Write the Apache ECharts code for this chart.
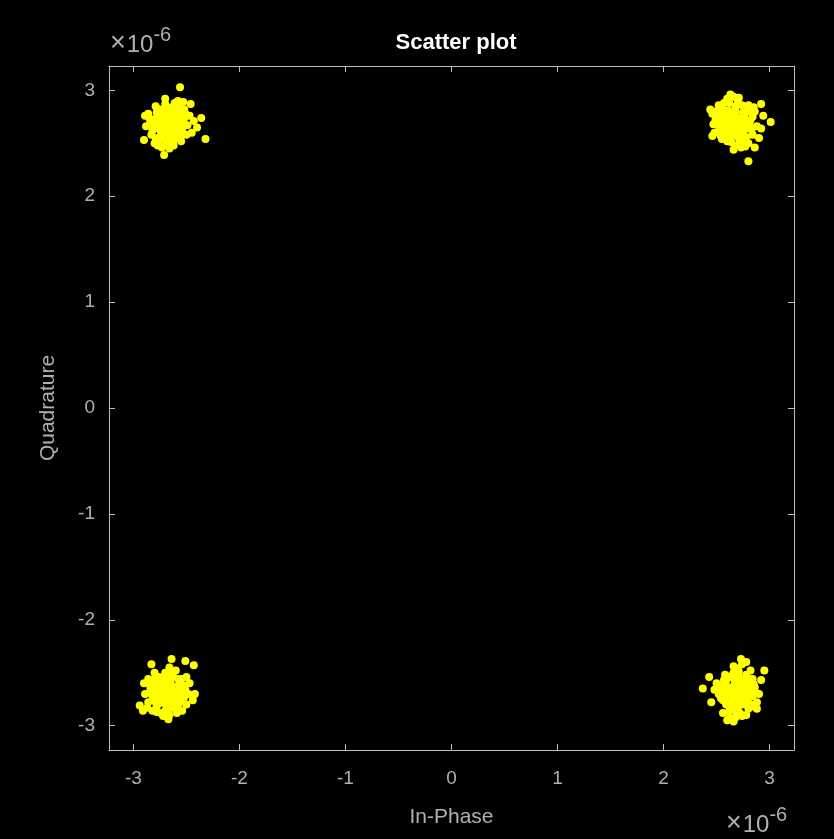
<!DOCTYPE html>
<html>
<head>
<meta charset="utf-8">
<script src="https://cdn.jsdelivr.net/npm/echarts@6/dist/echarts.min.js"></script>
<style>
html,body{margin:0;padding:0;background:#000;}
#c{width:834px;height:839px;}
</style>
</head>
<body>
<div id="c"></div>
<script>
// Values in units of 1e-6
const tickValues = [-3, -2, -1, 0, 1, 2, 3];
const clusterTopLeft = [
[-2.67,2.69],[-2.60,2.72],[-2.74,2.66],[-2.70,2.78],[-2.62,2.62],[-2.78,2.74],[-2.56,2.68],[-2.66,2.55],[-2.72,2.58],[-2.80,2.64],
[-2.58,2.80],[-2.64,2.84],[-2.75,2.82],[-2.84,2.70],[-2.52,2.74],[-2.54,2.62],[-2.60,2.55],[-2.69,2.50],[-2.76,2.52],[-2.83,2.58],
[-2.86,2.78],[-2.70,2.87],[-2.61,2.88],[-2.52,2.82],[-2.49,2.67],[-2.65,2.76],[-2.71,2.62],[-2.63,2.65],[-2.77,2.70],[-2.57,2.58],
[-2.66,2.45],[-2.62,2.48],[-2.73,2.46],[-2.80,2.50],[-2.88,2.66],[-2.55,2.52],[-2.50,2.58],[-2.47,2.76],[-2.79,2.85],[-2.58,2.90],
[-2.67,2.62],[-2.67,2.76],[-2.60,2.65],[-2.60,2.80],[-2.74,2.74],[-2.74,2.60],[-2.81,2.68],[-2.53,2.69],[-2.63,2.71],[-2.70,2.66],
[-2.64,2.58],[-2.70,2.72],[-2.57,2.75],[-2.78,2.79],[-2.56,2.63],[-2.69,2.83],[-2.62,2.53],[-2.73,2.55],[-2.82,2.62],[-2.58,2.85],
[-2.66,2.80],[-2.76,2.64],[-2.85,2.74],[-2.51,2.78],[-2.65,2.51],[-2.70,2.92],[-2.79,2.55],[-2.55,2.57],[-2.61,2.77],[-2.68,2.59],
[-2.75,2.76],[-2.64,2.68],[-2.58,2.69],[-2.72,2.70],[-2.77,2.48],
[-2.56,3.03],[-2.90,2.53],[-2.71,2.39],[-2.32,2.54],[-2.36,2.74],[-2.40,2.65],[-2.46,2.87],[-2.89,2.76],[-2.43,2.71],[-2.53,2.89],[-2.45,2.60]
];
const clusterTopRight = [
[2.66,2.70],[2.60,2.74],[2.72,2.66],[2.68,2.80],[2.58,2.62],[2.76,2.76],[2.54,2.70],[2.64,2.58],[2.70,2.56],[2.80,2.64],
[2.56,2.82],[2.62,2.88],[2.74,2.86],[2.82,2.72],[2.50,2.76],[2.52,2.62],[2.60,2.52],[2.68,2.48],[2.76,2.52],[2.84,2.58],
[2.86,2.80],[2.70,2.90],[2.60,2.92],[2.52,2.86],[2.47,2.68],[2.65,2.77],[2.71,2.62],[2.63,2.65],[2.78,2.70],[2.57,2.58],
[2.66,2.44],[2.73,2.46],[2.80,2.50],[2.88,2.66],[2.55,2.54],[2.48,2.60],[2.46,2.78],[2.80,2.86],[2.66,2.94],[2.74,2.60],
[2.66,2.63],[2.66,2.77],[2.59,2.67],[2.61,2.81],[2.73,2.73],[2.75,2.59],[2.81,2.69],[2.53,2.66],[2.63,2.72],[2.70,2.68],
[2.63,2.57],[2.70,2.74],[2.56,2.76],[2.79,2.80],[2.55,2.61],[2.68,2.85],[2.61,2.54],[2.72,2.53],[2.83,2.63],[2.57,2.88],
[2.67,2.81],[2.77,2.65],[2.84,2.75],[2.51,2.81],[2.64,2.51],[2.71,2.93],[2.78,2.56],[2.54,2.57],[2.62,2.78],[2.69,2.60],
[2.75,2.79],[2.65,2.67],[2.58,2.70],[2.72,2.71],[2.77,2.47],[2.85,2.84],[2.49,2.72],
[2.80,2.33],[2.92,2.87],[3.01,2.70],[2.94,2.76],[2.90,2.55],[2.44,2.82],[2.46,2.57],[2.63,2.96],[2.86,2.46],[2.92,2.64]
];
const clusterBottomLeft = [
[-2.68,-2.67],[-2.62,-2.63],[-2.74,-2.70],[-2.70,-2.58],[-2.60,-2.74],[-2.78,-2.62],[-2.56,-2.68],[-2.66,-2.80],[-2.72,-2.78],[-2.82,-2.72],
[-2.58,-2.56],[-2.64,-2.52],[-2.76,-2.54],[-2.84,-2.64],[-2.52,-2.62],[-2.54,-2.76],[-2.60,-2.84],[-2.70,-2.86],[-2.78,-2.82],[-2.86,-2.78],
[-2.86,-2.56],[-2.70,-2.50],[-2.60,-2.48],[-2.50,-2.54],[-2.48,-2.70],[-2.65,-2.60],[-2.71,-2.74],[-2.63,-2.71],[-2.77,-2.68],[-2.57,-2.79],
[-2.66,-2.90],[-2.74,-2.88],[-2.82,-2.86],[-2.89,-2.70],[-2.54,-2.86],[-2.50,-2.80],[-2.47,-2.60],[-2.80,-2.50],[-2.66,-2.45],[-2.56,-2.58],
[-2.68,-2.60],[-2.68,-2.74],[-2.61,-2.67],[-2.61,-2.81],[-2.75,-2.75],[-2.75,-2.61],[-2.81,-2.67],[-2.54,-2.69],[-2.64,-2.65],[-2.71,-2.69],
[-2.65,-2.56],[-2.71,-2.63],[-2.58,-2.73],[-2.79,-2.78],[-2.57,-2.63],[-2.69,-2.81],[-2.63,-2.52],[-2.74,-2.56],[-2.83,-2.61],[-2.59,-2.88],
[-2.66,-2.84],[-2.77,-2.73],[-2.85,-2.69],[-2.52,-2.73],[-2.64,-2.49],[-2.72,-2.91],[-2.80,-2.56],[-2.55,-2.56],[-2.62,-2.77],[-2.69,-2.55],
[-2.76,-2.79],[-2.64,-2.69],[-2.58,-2.64],[-2.73,-2.66],[-2.78,-2.87],[-2.87,-2.83],[-2.51,-2.66],
[-2.83,-2.42],[-2.64,-2.37],[-2.51,-2.39],[-2.43,-2.43],[-2.42,-2.70],[-2.94,-2.81],[-2.67,-2.94],[-2.91,-2.86],[-2.44,-2.76],[-2.90,-2.60]
];
const clusterBottomRight = [
[2.70,-2.68],[2.64,-2.64],[2.76,-2.72],[2.72,-2.58],[2.62,-2.75],[2.80,-2.62],[2.58,-2.68],[2.68,-2.82],[2.74,-2.80],[2.84,-2.72],
[2.60,-2.56],[2.66,-2.50],[2.78,-2.52],[2.86,-2.64],[2.54,-2.62],[2.56,-2.76],[2.62,-2.86],[2.72,-2.88],[2.80,-2.84],[2.88,-2.78],
[2.70,-2.46],[2.74,-2.42],[2.66,-2.44],[2.52,-2.70],[2.50,-2.60],[2.67,-2.61],[2.73,-2.75],[2.65,-2.71],[2.79,-2.68],[2.59,-2.80],
[2.68,-2.92],[2.78,-2.90],[2.84,-2.56],[2.90,-2.70],[2.56,-2.88],[2.48,-2.66],[2.82,-2.48],[2.62,-2.92],[2.76,-2.64],[2.58,-2.52],
[2.70,-2.61],[2.70,-2.75],[2.63,-2.68],[2.63,-2.81],[2.77,-2.76],[2.77,-2.60],[2.83,-2.67],[2.56,-2.71],[2.66,-2.66],[2.73,-2.70],
[2.67,-2.56],[2.73,-2.64],[2.60,-2.73],[2.81,-2.79],[2.59,-2.62],[2.70,-2.83],[2.64,-2.53],[2.76,-2.56],[2.85,-2.61],[2.61,-2.89],
[2.68,-2.86],[2.79,-2.73],[2.87,-2.69],[2.54,-2.74],[2.69,-2.50],[2.74,-2.91],[2.81,-2.56],[2.57,-2.57],[2.64,-2.77],[2.71,-2.54],
[2.78,-2.80],[2.66,-2.70],[2.60,-2.65],[2.75,-2.67],[2.71,-2.49],[2.52,-2.64],[2.85,-2.82],
[2.37,-2.65],[2.95,-2.48],[2.92,-2.57],[2.60,-2.95],[2.73,-2.37],[2.88,-2.84],[2.43,-2.54],[2.66,-2.96],[2.45,-2.78],[2.78,-2.40]
];

const allPoints = clusterTopLeft.concat(clusterTopRight, clusterBottomLeft, clusterBottomRight);

const axisColor = '#bdbdbd';
const textColor = '#b0b0b0';
const fontFamily = 'Liberation Sans, Arial, sans-serif';

function mkAxis(extra) {
  return Object.assign({
    type: 'value', min: -3.23, max: 3.23,
    splitLine: {show: false},
    axisLine: {show: true, onZero: false, lineStyle: {color: axisColor, width: 1}},
    axisTick: {show: true, inside: true, length: 6, customValues: tickValues, lineStyle: {color: axisColor}},
    axisLabel: {show: true, customValues: tickValues, color: textColor, fontSize: 19, fontFamily: fontFamily},
    nameTextStyle: {color: textColor, fontSize: 21, fontFamily: fontFamily}
  }, extra);
}

const richExp = {
  x: {fill: textColor, fontSize: 27, fontFamily: fontFamily, verticalAlign: 'bottom', padding: [0, 1, 0, 0]},
  b: {fill: textColor, fontSize: 24, fontFamily: fontFamily, verticalAlign: 'bottom'},
  s: {fill: textColor, fontSize: 20, fontFamily: fontFamily, verticalAlign: 'top', padding: [0, 0, 12, 0]}
};

const chart = echarts.init(document.getElementById('c'), null, {renderer: 'canvas'});
chart.setOption({
  backgroundColor: '#000',
  animation: false,
  title: {
    text: 'Scatter plot', left: 451, top: 27, textAlign: 'center',
    textStyle: {color: '#ffffff', fontSize: 22, fontWeight: 'bold', fontFamily: fontFamily}
  },
  grid: {left: 109, top: 66, width: 685, height: 684, show: false},
  xAxis: [
    mkAxis({position: 'bottom', name: 'In-Phase', nameLocation: 'middle', nameGap: 57,
      axisLabel: {show: true, customValues: tickValues, color: textColor, fontSize: 19, fontFamily: fontFamily, margin: 19}}),
    mkAxis({position: 'top', axisLabel: {show: false}})
  ],
  yAxis: [
    mkAxis({position: 'left', name: 'Quadrature', nameLocation: 'middle', nameGap: 50,
      axisLabel: {show: true, customValues: tickValues, color: textColor, fontSize: 19, fontFamily: fontFamily, margin: 14}}),
    mkAxis({position: 'right', axisLabel: {show: false}})
  ],
  graphic: [
    {type: 'text', left: 110, top: 25, style: {text: '{x|×}{b|10}{s|-6}', rich: richExp}},
    {type: 'text', left: 726, top: 805, style: {text: '{x|×}{b|10}{s|-6}', rich: richExp}}
  ],
  series: [{
    type: 'scatter',
    xAxisIndex: 0, yAxisIndex: 0,
    data: allPoints,
    symbol: 'circle',
    symbolSize: 8,
    itemStyle: {color: '#ffff00', opacity: 1},
    silent: true
  }]
});
</script>
</body>
</html>
